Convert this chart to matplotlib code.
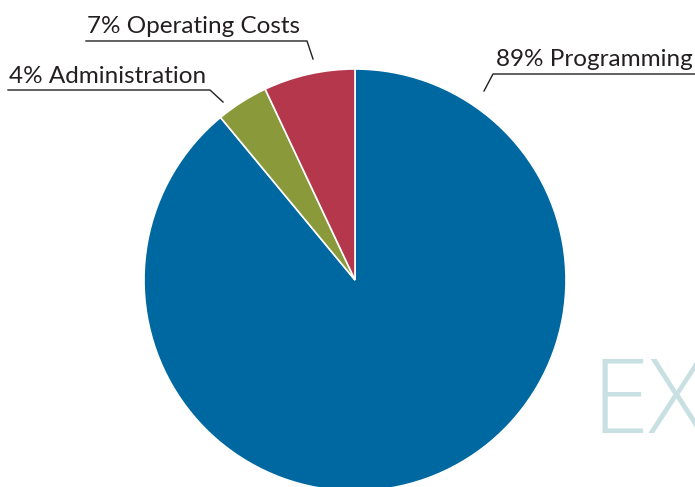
import matplotlib
matplotlib.use("Agg")
import matplotlib.pyplot as plt

categories = ["Programming", "Administration", "Operating Costs"]
values = [89, 4, 7]
colors = ["#0068a1", "#8a9a3a", "#b5374c"]
labels = ["89% Programming", "4% Administration", "7% Operating Costs"]

W, H = 695, 487
fig = plt.figure(figsize=(W / 100, H / 100), dpi=100)
ax = fig.add_axes([0, 0, 1, 1])

def Y(y):
    return H - y

ax.pie(values, colors=colors, startangle=90, counterclock=False,
       center=(355, Y(280)), radius=211, frame=True,
       wedgeprops=dict(edgecolor="white", linewidth=1.2))
ax.set_xlim(0, W)
ax.set_ylim(0, H)
ax.set_aspect("equal")
ax.axis("off")

# watermark
ax.text(591, Y(433), "EX", fontsize=75, color="#c8e0e2", family="Open Sans",
        fontweight="light", ha="left", va="baseline", zorder=0, clip_on=True)

font = dict(family="Lato", fontsize=17.5, color="#231f20")
lc = "#231f20"
lw = 1.0
# Programming
ax.text(496, Y(66), labels[0], ha="left", va="baseline", **font)
ax.plot([484, 493, 700], [Y(91), Y(74), Y(74)], color=lc, lw=lw, clip_on=False)
# Administration
ax.text(9, Y(83), labels[1], ha="left", va="baseline", **font)
ax.plot([8, 210, 223], [Y(90), Y(90), Y(102)], color=lc, lw=lw)
# Operating Costs
ax.text(87, Y(33), labels[2], ha="left", va="baseline", **font)
ax.plot([86, 307, 313], [Y(41), Y(41), Y(59)], color=lc, lw=lw)

fig.savefig("out.png", dpi=100)
